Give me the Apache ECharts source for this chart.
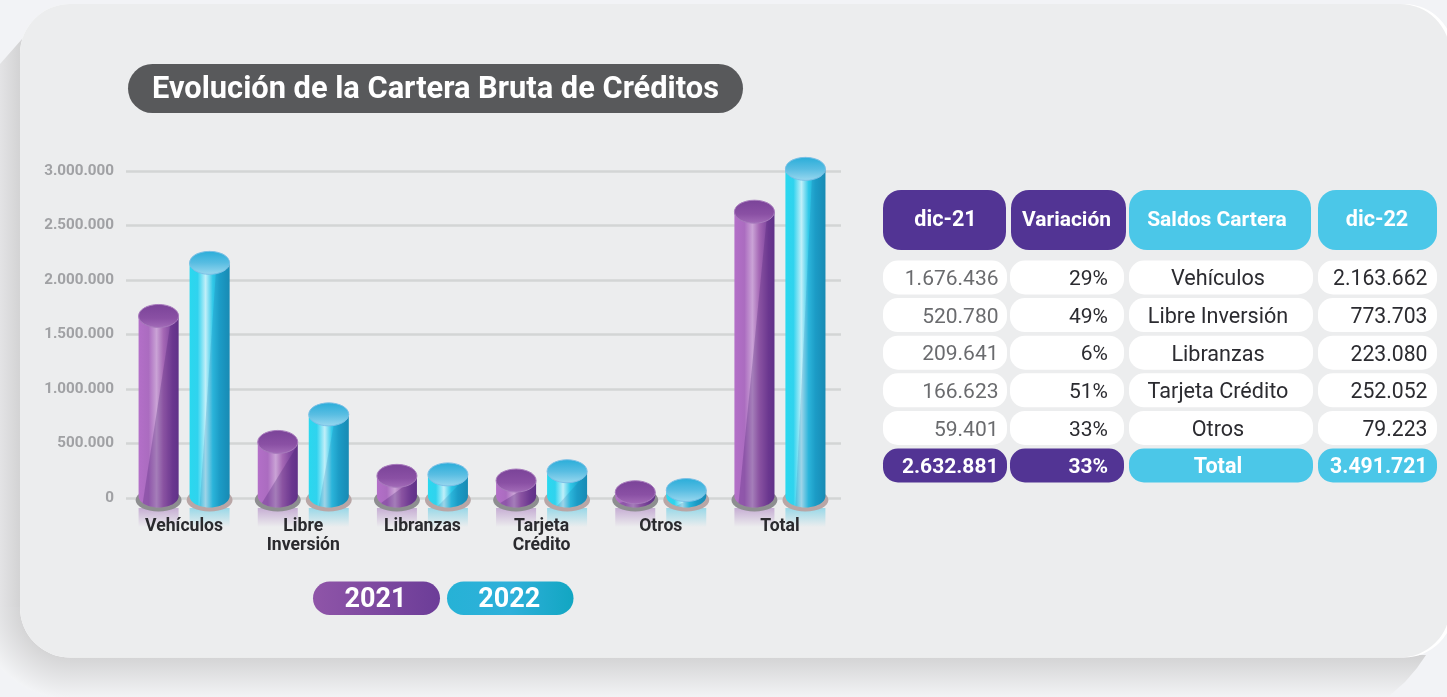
<!DOCTYPE html>
<html><head><meta charset="utf-8">
<style>html,body{margin:0;padding:0;background:#f2f3f6;overflow:hidden}#c{width:1447px;height:697px}</style>
<script src="https://cdn.jsdelivr.net/npm/echarts@6/dist/echarts.min.js"></script>
</head><body><div id="c"></div>
<script>
const titleText = 'Evolución de la Cartera Bruta de Créditos';
const categories = ['Vehículos','Libre\nInversión','Libranzas','Tarjeta\nCrédito','Otros','Total'];
const legendNames = ['2021','2022'];
const values2021 = [1676436,520780,209641,166623,59401,2632881];
// the Total 2022 cylinder is drawn lower than its table value in the reference
const values2022 = [2163662,773703,223080,252052,79223,3026000];
const headers = ['dic-21','Variación','Saldos Cartera','dic-22'];
const col2021 = ['1.676.436','520.780','209.641','166.623','59.401','2.632.881'];
const colVar = ['29%','49%','6%','51%','33%','33%'];
const colName = ['Vehículos','Libre Inversión','Libranzas','Tarjeta Crédito','Otros','Total'];
const col2022 = ['2.163.662','773.703','223.080','252.052','79.223','3.491.721'];

const PURPLE='#523494', CYAN='#4bc7e8', FONT='Roboto, sans-serif';
const lg=(x,y,x2,y2,stops)=>({type:'linear',x,y,x2,y2,colorStops:stops.map(s=>({offset:s[0],color:s[1]}))});
const fmt=v=>String(v).replace(/\B(?=(\d{3})+$)/g,'.');

const looks=[{
  body:[[0,'#b36fc8'],[.25,'#ab6cc0'],[.45,'#caa3d6'],[.62,'#a568b5'],[.85,'#7a429c'],[1,'#6b3a92']],
  overlay:'rgba(70,30,110,0.28)', diagBottom:3, diagTop:33,
  top:[[0,'#7a4398'],[.6,'#8a50a4'],[1,'#a36cb8']], topLine:'#a87bbd',
  ring:'#8d8e90', refl:'rgba(160,110,185,0.5)'
},{
  body:[[0,'#2ad8ef'],[.2,'#30d3ee'],[.4,'#c0eff9'],[.58,'#30c8e8'],[.75,'#1da9cf'],[1,'#1893b8']],
  overlay:'rgba(25,105,165,0.2)', diagBottom:9, diagTop:27,
  top:[[0,'#29add9'],[.5,'#58bde2'],[1,'#9ad8ef']], topLine:'#7cc0e6',
  ring:'#b9a6a6', refl:'rgba(70,195,225,0.5)'
}];

function cylinder(seriesIdx, offset){
  const look=looks[seriesIdx];
  return function(params,api){
    const p=api.coord([api.value(0),api.value(1)]);
    const base=api.coord([api.value(0),0]);
    const w=40, rx=20, ry=11.5;
    const cx=p[0]-1.5+offset, x=cx-rx, topY=p[1]+0.7, botY=base[1]-2;
    const arc=(fromX)=>{ // bottom half ellipse, from right side to fromX
      const pts=[];
      for(let i=0;i<=24;i++){
        const a=Math.PI*i/24, px=cx+rx*Math.cos(a);
        if(px<fromX) break;
        pts.push([px,botY+ry*Math.sin(a)]);
      }
      return pts;
    };
    const h=botY-topY;
    const fromX=x+look.diagBottom;
    let ov;
    if(h>60){
      const tx=x+look.diagTop;
      ov=[[tx,topY],[x+w,topY],...arc(fromX)];
    } else {
      const ey=botY-h*0.95;
      ov=[[x+w,ey],...arc(fromX)];
    }
    return {type:'group',children:[
      {type:'rect',shape:{x:x,y:botY+12,width:w,height:19},
        style:{fill:lg(0,0,0,1,[[0,look.refl],[1,look.refl.replace(/[\d.]+\)$/,'0)')]])}},
      {type:'ellipse',shape:{cx:cx,cy:base[1]+2,rx:23,ry:11.5},style:{fill:look.ring}},
      {type:'polygon',shape:{points:[[x,topY],[x+w,topY],...arc(x)]},style:{fill:lg(0,0,1,0,look.body)}},
      {type:'polygon',shape:{points:ov},style:{fill:look.overlay}},
      {type:'ellipse',shape:{cx:cx,cy:topY,rx:rx,ry:ry},style:{fill:lg(0,0,0,1,look.top),stroke:look.topLine,lineWidth:1}}
    ]};
  };
}

const g=[];
// page background shapes
g.push({type:'polygon',z:-20,shape:{points:[[0,64],[30,30],[30,607],[0,607]]},style:{fill:lg(0,0,1,0,[[0,'#e3e3e5'],[.667,'#d3d3d4'],[1,'#d3d3d4']])}});
g.push({type:'sector',z:-19,shape:{cx:70,cy:607,r0:48,r:92,startAngle:Math.PI/2,endAngle:Math.PI},style:{fill:{type:'radial',x:70,y:607,r:92,global:true,colorStops:[{offset:.52,color:'#d3d3d4'},{offset:1,color:'#f3f4f6'}]}}});
g.push({type:'polygon',z:-19,shape:{points:[[70,655],[1426,655],[1417,668],[1405,682],[1388,697],[70,697]]},style:{fill:lg(0,0,0,1,[[0,'#d2d2d3'],[1,'#f2f3f5']])}});
g.push({type:'rect',z:-18,shape:{x:20,y:4,width:1434,height:653.5,r:50},style:{fill:'#ffffff'}});
g.push({type:'rect',z:-17,shape:{x:20,y:4,width:1430,height:653.5,r:50},style:{fill:'#ecedee'}});
// title
g.push({type:'rect',shape:{x:128,y:64,width:615,height:49,r:24.5},style:{fill:'#58595b'}});
g.push({type:'text',style:{text:titleText,x:152,y:90.5,fill:'#fff',font:'700 30.8px '+FONT,textAlign:'left',textVerticalAlign:'middle'}});
// legend pills
const pillX=[313,447], pillW=[127,126.5];
const pillFill=[[[0,'#8f55a8'],[1,'#6c3d98']],[[0,'#26b2d6'],[.5,'#2fb0da'],[1,'#12a6c2']]];
legendNames.forEach((n,i)=>{
  g.push({type:'rect',shape:{x:pillX[i],y:581.5,width:pillW[i],height:33.5,r:16.7},style:{fill:lg(0,0,1,0,pillFill[i])}});
  g.push({type:'text',style:{text:n,x:pillX[i]+pillW[i]/2-1,y:600,fill:'#fff',font:'700 27px '+FONT,textAlign:'center',textVerticalAlign:'middle'}});
});
// table
const hdrX=[[883,123],[1011,115],[1129,182],[1318,119]];
const rowX=[[883,124],[1010,114],[1129,184],[1318,119]];
const hdrFill=[PURPLE,PURPLE,CYAN,CYAN];
const hdrFont=[21.6,21,21,21.6];
const hdrCx=[945.5,1066.5,1217,1377];
headers.forEach((t,i)=>{
  g.push({type:'rect',shape:{x:hdrX[i][0],y:190,width:hdrX[i][1],height:60,r:18},style:{fill:hdrFill[i]}});
  g.push({type:'text',style:{text:t,x:hdrCx[i],y:221,fill:'#fff',font:'700 '+hdrFont[i]+'px '+FONT,textAlign:'center',textVerticalAlign:'middle'}});
});
const cols=[col2021,colVar,colName,col2022];
const anchors=[[998.5,'right'],[1108,'right'],[1218,'center'],[1427.5,'right']];
const rowColor=['#6a6b6e','#2b2b30','#2b2b30','#2b2b30'];
const rowFont=[21,21,21.6,21.2];
cols.forEach((col,ci)=>{
  col.forEach((t,ri)=>{
    const y=260.5+ri*37.6, last=ri===col.length-1;
    g.push({type:'rect',shape:{x:rowX[ci][0],y:y,width:rowX[ci][1],height:34,r:15},style:{fill:last?hdrFill[ci]:'#fff'}});
    g.push({type:'text',style:{text:t,x:anchors[ci][0],y:y+19.5,fill:last?'#fff':rowColor[ci],font:(last?'700 ':'400 ')+rowFont[ci]+'px '+FONT,textAlign:anchors[ci][1],textVerticalAlign:'middle'}});
  });
});

const chart=echarts.init(document.getElementById('c'));
chart.setOption({
  animation:false,
  backgroundColor:'#f2f3f6',
  grid:{left:126,right:606,top:171,bottom:199,containLabel:false},
  xAxis:{type:'category',data:categories,z:5,axisLine:{show:false},axisTick:{show:false},splitLine:{show:false},
    axisLabel:{interval:0,margin:19,color:'#2a2a2e',fontFamily:FONT,fontWeight:700,fontSize:17.6,lineHeight:19,padding:[0,3,0,0]}},
  yAxis:{type:'value',min:0,max:3000000,interval:500000,axisLine:{show:false},axisTick:{show:false},
    splitLine:{show:true,lineStyle:{color:'#d3d5d5',width:2.5}},
    axisLabel:{margin:12,color:'#a0a1a4',fontFamily:FONT,fontWeight:700,fontSize:15.2,padding:[3,0,0,0],formatter:fmt}},
  series:[
    {name:legendNames[0],type:'custom',coordinateSystem:'cartesian2d',z:2,clip:false,encode:{x:0,y:1},renderItem:cylinder(0,-25.5),
      data:values2021.map((v,i)=>[i,v])},
    {name:legendNames[1],type:'custom',coordinateSystem:'cartesian2d',z:3,clip:false,encode:{x:0,y:1},renderItem:cylinder(1,25.5),
      data:values2022.map((v,i)=>[i,v])}
  ],
  graphic:{elements:g}
});
</script></body></html>
